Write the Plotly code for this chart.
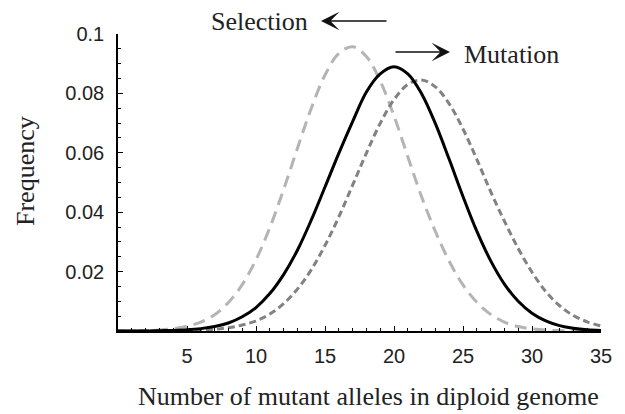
import plotly.graph_objects as go

# Number of mutant alleles (x) and frequency values
alleles = list(range(0, 36))

freq_current = [0, 0, 0, 0.0001, 0.0002, 0.0004, 0.0008, 0.0015, 0.0027, 0.0048,
                0.0079, 0.0126, 0.019, 0.0272, 0.0373, 0.0485, 0.0598, 0.0705, 0.0805, 0.0866,
                0.089, 0.0866, 0.0799, 0.0698, 0.0578, 0.0453, 0.0336, 0.0237, 0.0158, 0.0100,
                0.0060, 0.0034, 0.0018, 0.0009, 0.0004, 0.0002]

freq_selection = [0, 0.0001, 0.00015, 0.00035, 0.00076, 0.0016, 0.0030, 0.0055, 0.0096, 0.0156,
                  0.0240, 0.0348, 0.0476, 0.0615, 0.0749, 0.0862, 0.0935, 0.0957, 0.0924, 0.0842,
                  0.0724, 0.0587, 0.0452, 0.0335, 0.0235, 0.0155, 0.0097, 0.0056, 0.0030, 0.0015,
                  0.0007, 0.0003, 0.00013, 0.00005, 0.00002, 0]

freq_mutation = [0, 0, 0, 0, 0.00005, 0.00013, 0.00028, 0.00056, 0.0011, 0.0020,
                 0.0034, 0.0057, 0.0092, 0.0141, 0.0206, 0.0288, 0.0384, 0.0491, 0.0599, 0.0699,
                 0.0779, 0.0830, 0.0845, 0.0822, 0.0765, 0.0680, 0.0578, 0.0470, 0.0370, 0.0278,
                 0.0198, 0.0133, 0.0085, 0.0052, 0.0031, 0.0017]

x_ticks = [5, 10, 15, 20, 25, 30, 35]
y_ticks = [0.02, 0.04, 0.06, 0.08, 0.1]
y_tick_text = ["0.02", "0.04", "0.06", "0.08", "0.1"]

fig = go.Figure()
fig.add_trace(go.Scatter(x=alleles, y=freq_selection, mode="lines",
                         line=dict(color="#b4b4b4", width=3, dash="12px,7px", shape="spline", smoothing=1),
                         showlegend=False))
fig.add_trace(go.Scatter(x=alleles, y=freq_mutation, mode="lines",
                         line=dict(color="#828282", width=3, dash="7px,4px", shape="spline", smoothing=1),
                         showlegend=False))
fig.add_trace(go.Scatter(x=alleles, y=freq_current, mode="lines",
                         line=dict(color="black", width=3, shape="spline", smoothing=1),
                         showlegend=False))

tickfont = dict(family="Liberation Sans, Arial, sans-serif", size=20, color="#222")
serif = dict(family="Liberation Serif, Times New Roman, serif", size=26, color="#222")

fig.update_xaxes(range=[0, 35], tickmode="array", tickvals=x_ticks, automargin=False,
                 ticks="inside", ticklen=5, tickwidth=1.2, tickcolor="black",
                 minor=dict(dtick=1, tick0=0, ticks="inside", ticklen=3, tickcolor="black", tickwidth=1),
                 showline=True, linecolor="black", linewidth=1.5,
                 showgrid=False, zeroline=False, tickfont=tickfont, ticklabelstandoff=6)
fig.update_yaxes(range=[0, 0.1], tickmode="array", tickvals=y_ticks, ticktext=y_tick_text,
                 automargin=False,
                 ticks="inside", ticklen=5, tickwidth=1.2, tickcolor="black",
                 minor=dict(dtick=0.005, tick0=0, ticks="inside", ticklen=3, tickcolor="black", tickwidth=1),
                 showline=True, linecolor="black", linewidth=1.5,
                 showgrid=False, zeroline=False, tickfont=tickfont, ticklabelstandoff=8)

# the page body adds an 8px offset; size the figure to fill the rest of the window
OFF = 8
W, H = 625 - OFF, 414 - OFF
L, R, T, B = 118 - OFF, 24, 34 - OFF, 83
pw, ph = W - L - R, H - T - B

def px(xp):
    return (xp - OFF - L) / pw

def py(yp):
    return (H - B - (yp - OFF)) / ph

annotations = [
    dict(text="Number of mutant alleles in diploid genome", x=px(368), y=py(396),
         xref="paper", yref="paper", showarrow=False, font=serif, xanchor="center", yanchor="middle"),
    dict(text="Frequency", x=px(25), y=py(171), textangle=-90,
         xref="paper", yref="paper", showarrow=False, font=serif, xanchor="center", yanchor="middle"),
    dict(text="Selection", x=px(209), y=py(21), xref="paper", yref="paper", showarrow=False,
         font=serif, xanchor="left", yanchor="middle"),
    dict(text="Mutation", x=px(462), y=py(54), xref="paper", yref="paper", showarrow=False,
         font=serif, xanchor="left", yanchor="middle"),
    dict(text="", x=px(321), y=py(21), xref="paper", yref="paper", ax=67, ay=0,
         showarrow=True, arrowhead=3, arrowsize=2.2, arrowwidth=1.4, arrowcolor="#111"),
    dict(text="", x=px(450), y=py(52), xref="paper", yref="paper", ax=-56, ay=0,
         showarrow=True, arrowhead=3, arrowsize=2.2, arrowwidth=1.4, arrowcolor="#111"),
]

fig.update_layout(width=W, height=H, margin=dict(l=L, r=R, t=T, b=B),
                  plot_bgcolor="white", paper_bgcolor="white", annotations=annotations)

fig.write_html("out.html")
